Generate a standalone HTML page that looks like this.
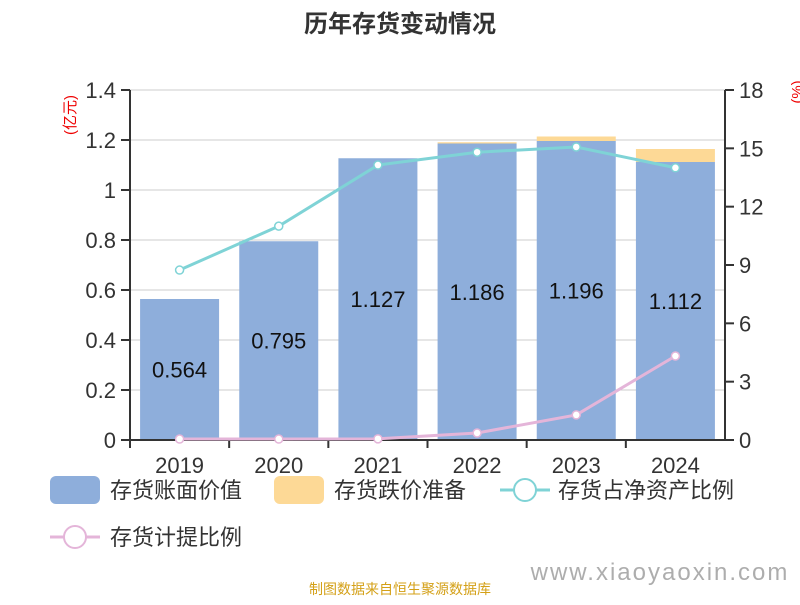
<!DOCTYPE html>
<html><head><meta charset="utf-8"><style>
body{margin:0;background:#fff;}
svg text{font-family:"Liberation Sans","Noto Sans CJK SC",sans-serif;}
</style></head><body>
<svg width="800" height="600" viewBox="0 0 800 600" xmlns="http://www.w3.org/2000/svg">
<text x="400" y="32" text-anchor="middle" font-size="24" font-weight="bold" fill="#333">历年存货变动情况</text>
<g id="grid"></g>
<g id="bars"></g>
<g id="axes"></g>
<g id="lines"></g>
<text transform="translate(75,115) rotate(-90)" text-anchor="middle" font-size="15" fill="#e00">(亿元)</text>
<text transform="translate(802,92) rotate(-90)" text-anchor="middle" font-size="15" fill="#e00">(%)</text>
<g>
<rect x="50" y="476" width="50" height="28" rx="6" fill="#8eaedb"/>
<text x="110" y="498" font-size="22" fill="#333">存货账面价值</text>
<rect x="274" y="476" width="50" height="28" rx="6" fill="#fdd996"/>
<text x="334" y="498" font-size="22" fill="#333">存货跌价准备</text>
<line x1="500" y1="490" x2="550" y2="490" stroke="#7fd3d6" stroke-width="3"/>
<circle cx="525" cy="490" r="11" fill="#fff" stroke="#7fd3d6" stroke-width="2"/>
<text x="558" y="498" font-size="22" fill="#333">存货占净资产比例</text>
<line x1="50" y1="537" x2="100" y2="537" stroke="#e4b5d9" stroke-width="3"/>
<circle cx="75" cy="537" r="11" fill="#fff" stroke="#e4b5d9" stroke-width="2"/>
<text x="110" y="545" font-size="22" fill="#333">存货计提比例</text>
</g>
<text x="400" y="594" text-anchor="middle" font-size="14" fill="#d4a017">制图数据来自恒生聚源数据库</text>
<text x="660" y="580" text-anchor="middle" font-size="24" fill="#999" opacity="0.8" letter-spacing="2">www.xiaoyaoxin.com</text>
</svg>
<script>
const categories=["2019","2020","2021","2022","2023","2024"];
const bookValue=[0.564,0.795,1.127,1.186,1.196,1.112];
const reserve=[0,0,0,0.005,0.018,0.052];
const netAssetRatio=[8.74,11.0,14.14,14.8,15.07,14.0];
const provisionRatio=[0.05,0.05,0.06,0.36,1.29,4.32];
const leftTicks=["0","0.2","0.4","0.6","0.8","1","1.2","1.4"];
const rightTicks=["0","3","6","9","12","15","18"];
const NS="http://www.w3.org/2000/svg";
const X0=130,X1=725,Y0=440,Y1=90;
const bw=(X1-X0)/categories.length;
const xc=i=>X0+bw*(i+0.5);
const yl=v=>Y0-(v/1.4)*(Y0-Y1);
const yr=v=>Y0-(v/18)*(Y0-Y1);
function mk(tag,attrs,parent,txt){const e=document.createElementNS(NS,tag);for(const k in attrs)e.setAttribute(k,attrs[k]);if(txt!==undefined)e.textContent=txt;document.getElementById(parent).appendChild(e);return e;}
leftTicks.forEach(t=>{const y=yl(parseFloat(t));
 const g=mk("line",{x1:X0,x2:X1,y1:y,y2:y,stroke:"#ccc","stroke-width":1},"grid");
 
 
 const tk=mk("line",{x1:X0-9,x2:X0,y1:y,y2:y,stroke:"#333","stroke-width":2},"axes");
 
 
 const tl=mk("text",{x:X0-14,y:y+8,"text-anchor":"end","font-size":22,fill:"#333"},"axes",t);
 
 
});
rightTicks.forEach(t=>{const y=yr(parseFloat(t));
 const tk=mk("line",{x1:X1,x2:X1+9,y1:y,y2:y,stroke:"#333","stroke-width":2},"axes");
 
 
 const tl=mk("text",{x:X1+14,y:y+8,"font-size":22,fill:"#333"},"axes",t);
 
 
});
let a=mk("line",{x1:X0,x2:X0,y1:Y1,y2:Y0,stroke:"#333","stroke-width":2},"axes");


a=mk("line",{x1:X1,x2:X1,y1:Y1,y2:Y0,stroke:"#333","stroke-width":2},"axes");


a=mk("line",{x1:X0,x2:X1,y1:Y0,y2:Y0,stroke:"#333","stroke-width":2},"axes");


categories.forEach((c,i)=>{
 const x=xc(i),w=79;
 const b=mk("rect",{x:x-w/2,y:yl(bookValue[i]),width:w,height:Y0-yl(bookValue[i]),fill:"#8eaedb"},"bars");
 
 
 if(reserve[i]>0){const r=mk("rect",{x:x-w/2,y:yl(bookValue[i]+reserve[i]),width:w,height:yl(bookValue[i])-yl(bookValue[i]+reserve[i]),fill:"#fdd996"},"bars");
 
 }
 const lab=mk("text",{x:x,y:(yl(bookValue[i])+Y0)/2+8,"text-anchor":"middle","font-size":22,fill:"#111"},"bars",bookValue[i].toFixed(3));
 
 
 const tk=mk("line",{x1:X0+bw*i,x2:X0+bw*i,y1:Y0,y2:Y0+8,stroke:"#333","stroke-width":2},"axes");
 
 
 const xl=mk("text",{x:x,y:Y0+33,"text-anchor":"middle","font-size":22,fill:"#333"},"axes",c);
 
 
});
function series(vals,color,name){
 const p=mk("polyline",{points:vals.map((v,i)=>xc(i)+","+yr(v)).join(" "),fill:"none",stroke:color,"stroke-width":3},"lines");
 
 
 vals.forEach((v,i)=>{const c=mk("circle",{cx:xc(i),cy:yr(v),r:4,fill:"#fff",stroke:color,"stroke-width":1.5},"lines");
 
 });
}
series(netAssetRatio,"#7fd3d6","net-asset-ratio");
series(provisionRatio,"#e4b5d9","provision-ratio");
</script>
</body></html>
